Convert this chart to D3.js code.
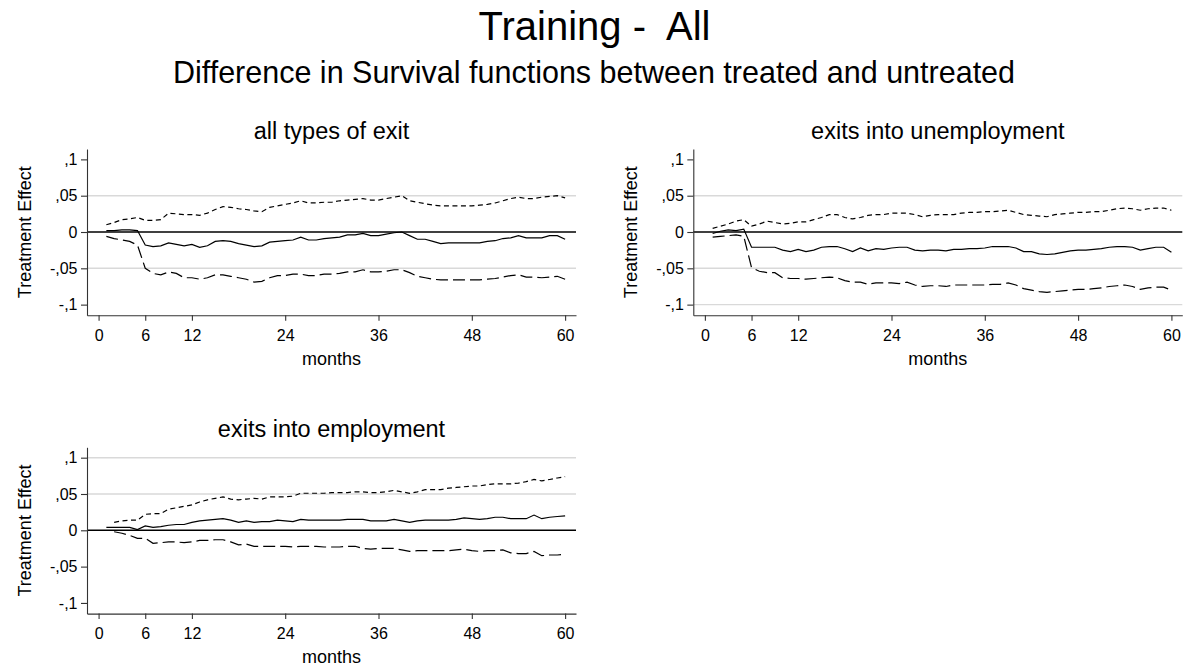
<!DOCTYPE html>
<html>
<head>
<meta charset="utf-8">
<script src="https://cdn.jsdelivr.net/npm/d3@7/dist/d3.min.js"></script>
<style>
  html, body { margin: 0; padding: 0; background: #fff; }
  svg { display: block; }
  text { font-family: "Liberation Sans", Arial, sans-serif; fill: #000; white-space: pre; }
</style>
</head>
<body>
<svg id="chart" width="1186" height="668"></svg>
<script>
// ---------------- data ----------------
const months = [1,2,3,4,5,6,7,8,9,10,11,12,13,14,15,16,17,18,19,20,
  21,22,23,24,25,26,27,28,29,30,31,32,33,34,35,36,37,38,39,40,
  41,42,43,44,45,46,47,48,49,50,51,52,53,54,55,56,57,58,59,60];

const xTicks = [0, 6, 12, 24, 36, 48, 60];
const yTicks = [0.1, 0.05, 0, -0.05, -0.1];
const yTickLabels = [",1", ",05", "0", "-,05", "-,1"];

const panelTitles = ["all types of exit", "exits into unemployment", "exits into employment"];
const mainTitle = "Training -  All";
const subTitle = "Difference in Survival functions between treated and untreated";
const yAxisTitle = "Treatment Effect";
const xAxisTitle = "months";

// all types of exit
const allSolid = [0.002,0.002,0.003,0.003,0.002,-0.018,-0.020,-0.019,-0.015,-0.017,
  -0.019,-0.017,-0.021,-0.019,-0.013,-0.012,-0.013,-0.016,-0.018,-0.020,
  -0.019,-0.014,-0.013,-0.012,-0.011,-0.007,-0.011,-0.011,-0.009,-0.008,
  -0.007,-0.004,-0.004,-0.002,-0.005,-0.005,-0.003,-0.001,0.000,-0.005,
  -0.010,-0.010,-0.013,-0.016,-0.015,-0.015,-0.015,-0.015,-0.015,-0.013,
  -0.012,-0.009,-0.008,-0.005,-0.008,-0.008,-0.008,-0.005,-0.005,-0.010];
const allUpper = [0.010,0.013,0.017,0.018,0.020,0.016,0.016,0.017,0.026,0.025,
  0.024,0.024,0.023,0.026,0.031,0.035,0.034,0.032,0.031,0.029,
  0.028,0.034,0.036,0.038,0.040,0.043,0.040,0.040,0.041,0.041,
  0.043,0.044,0.045,0.046,0.044,0.044,0.046,0.048,0.050,0.043,
  0.041,0.039,0.037,0.036,0.036,0.036,0.036,0.036,0.037,0.038,
  0.040,0.043,0.046,0.048,0.046,0.046,0.048,0.049,0.050,0.047];
const allLower = [-0.006,-0.009,-0.011,-0.013,-0.018,-0.050,-0.057,-0.059,-0.055,-0.057,
  -0.063,-0.063,-0.065,-0.063,-0.059,-0.059,-0.061,-0.063,-0.065,-0.069,
  -0.068,-0.063,-0.060,-0.060,-0.058,-0.058,-0.060,-0.060,-0.058,-0.058,
  -0.057,-0.055,-0.055,-0.052,-0.055,-0.055,-0.054,-0.052,-0.052,-0.056,
  -0.061,-0.063,-0.065,-0.066,-0.066,-0.066,-0.066,-0.066,-0.066,-0.065,
  -0.064,-0.062,-0.060,-0.059,-0.062,-0.062,-0.063,-0.062,-0.061,-0.065];

// exits into unemployment
const unempSolid = [-0.002,0.001,0.003,0.002,0.004,-0.021,-0.021,-0.021,-0.021,-0.025,
  -0.027,-0.024,-0.027,-0.025,-0.021,-0.020,-0.020,-0.023,-0.027,-0.022,
  -0.026,-0.023,-0.024,-0.022,-0.021,-0.021,-0.025,-0.026,-0.025,-0.025,
  -0.026,-0.024,-0.024,-0.023,-0.023,-0.022,-0.020,-0.020,-0.020,-0.022,
  -0.027,-0.027,-0.030,-0.031,-0.030,-0.028,-0.026,-0.025,-0.025,-0.024,
  -0.023,-0.021,-0.020,-0.020,-0.021,-0.025,-0.023,-0.021,-0.021,-0.028];
const unempUpper = [0.005,0.008,0.011,0.015,0.017,0.008,0.011,0.015,0.013,0.011,
  0.012,0.014,0.014,0.017,0.020,0.024,0.024,0.020,0.018,0.020,
  0.023,0.024,0.024,0.026,0.026,0.026,0.024,0.021,0.023,0.024,
  0.024,0.024,0.026,0.027,0.027,0.028,0.028,0.029,0.030,0.027,
  0.024,0.023,0.022,0.021,0.024,0.025,0.026,0.027,0.027,0.028,
  0.028,0.030,0.032,0.033,0.032,0.030,0.032,0.033,0.033,0.030];
const unempLower = [-0.007,-0.006,-0.005,-0.004,-0.006,-0.049,-0.054,-0.056,-0.056,-0.063,
  -0.064,-0.064,-0.065,-0.064,-0.063,-0.062,-0.063,-0.067,-0.069,-0.069,
  -0.072,-0.070,-0.070,-0.070,-0.071,-0.069,-0.073,-0.075,-0.074,-0.074,
  -0.075,-0.073,-0.073,-0.073,-0.073,-0.073,-0.072,-0.072,-0.070,-0.073,
  -0.078,-0.080,-0.082,-0.083,-0.082,-0.081,-0.080,-0.079,-0.079,-0.078,
  -0.077,-0.075,-0.074,-0.073,-0.075,-0.079,-0.077,-0.076,-0.076,-0.080];

// exits into employment
const empSolid = [0.004,0.004,0.004,0.004,0.001,0.006,0.004,0.005,0.007,0.008,
  0.008,0.011,0.013,0.014,0.015,0.016,0.014,0.011,0.013,0.011,
  0.012,0.012,0.014,0.013,0.012,0.015,0.014,0.014,0.014,0.014,
  0.014,0.015,0.015,0.015,0.013,0.013,0.013,0.015,0.013,0.011,
  0.013,0.014,0.014,0.014,0.014,0.015,0.017,0.016,0.015,0.016,
  0.018,0.018,0.016,0.016,0.016,0.021,0.016,0.018,0.019,0.020];
const empUpper = [null,0.011,0.013,0.014,0.014,0.022,0.023,0.023,0.029,0.031,
  0.033,0.035,0.039,0.042,0.044,0.046,0.043,0.042,0.043,0.044,
  0.043,0.046,0.046,0.046,0.047,0.051,0.051,0.051,0.051,0.052,
  0.052,0.052,0.053,0.053,0.052,0.052,0.053,0.055,0.053,0.051,
  0.053,0.056,0.056,0.056,0.058,0.059,0.060,0.061,0.061,0.063,
  0.064,0.064,0.064,0.065,0.067,0.070,0.068,0.070,0.072,0.074];
const empLower = [null,-0.002,-0.004,-0.007,-0.011,-0.011,-0.018,-0.017,-0.016,-0.016,
  -0.017,-0.016,-0.014,-0.014,-0.013,-0.013,-0.016,-0.020,-0.019,-0.022,
  -0.022,-0.022,-0.022,-0.022,-0.023,-0.022,-0.022,-0.022,-0.023,-0.023,
  -0.023,-0.022,-0.022,-0.025,-0.026,-0.025,-0.025,-0.025,-0.027,-0.029,
  -0.028,-0.028,-0.028,-0.028,-0.028,-0.027,-0.026,-0.028,-0.029,-0.028,
  -0.028,-0.027,-0.031,-0.032,-0.032,-0.029,-0.035,-0.034,-0.034,-0.033];

// ---------------- layout ----------------
const svg = d3.select("#chart");
const FONT = '"Liberation Sans", Arial, sans-serif';

svg.append("text").attr("x", 594.5).attr("y", 39.5).attr("text-anchor", "middle")
  .attr("xml:space", "preserve")
  .style("font-size", "40px").text(mainTitle);
svg.append("text").attr("x", 594).attr("y", 82.5).attr("text-anchor", "middle")
  .style("font-size", "30.5px").text(subTitle);

const panels = [
  { title: panelTitles[0], solid: allSolid, upper: allUpper, lower: allLower, dx: 0, dy: 0, grid: [0.05, -0.05] },
  { title: panelTitles[1], solid: unempSolid, upper: unempUpper, lower: unempLower, dx: 606.3, dy: 0, grid: [0.05, -0.05, -0.1] },
  { title: panelTitles[2], solid: empSolid, upper: empUpper, lower: empLower, dx: 0, dy: 298.3, grid: [0.1, 0.05] }
];

const x = d3.scaleLinear().domain([-1.49, 61.4]).range([87, 576]);
const y = d3.scaleLinear().domain([-0.1147, 0.1143]).range([315.3, 149]);

panels.forEach(p => {
  const g = svg.append("g").attr("transform", `translate(${p.dx},${p.dy})`);

  // gridlines
  g.selectAll("line.grid").data(p.grid).join("line")
    .attr("class", "grid")
    .attr("x1", x.range()[0]).attr("x2", x.range()[1])
    .attr("y1", d => y(d)).attr("y2", d => y(d))
    .attr("stroke", "#d9d9d9").attr("stroke-width", 1.4);

  // zero reference line
  g.append("line")
    .attr("x1", x.range()[0]).attr("x2", x.range()[1])
    .attr("y1", y(0)).attr("y2", y(0))
    .attr("stroke", "#000").attr("stroke-width", 1.5);

  const line = d3.line()
    .defined(d => d[1] != null)
    .x(d => x(d[0])).y(d => y(d[1]));

  const series = [
    { vals: p.upper, dash: "5,3.5" },
    { vals: p.lower, dash: "12,5" },
    { vals: p.solid, dash: null }
  ];
  series.forEach(s => {
    g.append("path")
      .datum(months.map((m, i) => [m, s.vals[i]]))
      .attr("d", line)
      .attr("fill", "none")
      .attr("stroke", "#000")
      .attr("stroke-width", 1.2)
      .attr("stroke-dasharray", s.dash);
  });

  // axes
  const yAxis = d3.axisLeft(y)
    .tickValues(yTicks)
    .tickFormat((d, i) => yTickLabels[i])
    .tickSize(6).tickSizeOuter(0).tickPadding(3.5);
  const ya = g.append("g").attr("transform", `translate(${x.range()[0]},0)`).call(yAxis);

  const xAxis = d3.axisBottom(x)
    .tickValues(xTicks)
    .tickFormat(d3.format("d"))
    .tickSize(5.5).tickSizeOuter(0).tickPadding(8.4);
  const xa = g.append("g").attr("transform", `translate(0,${y.range()[0]})`).call(xAxis);

  [ya, xa].forEach(a => {
    a.select(".domain").attr("stroke", "#333").attr("stroke-width", 1.1);
    a.selectAll(".tick line").attr("stroke", "#333").attr("stroke-width", 1.1);
    a.selectAll(".tick text").style("font-size", "16px").style("font-family", FONT).attr("fill", "#000");
  });

  // titles
  g.append("text")
    .attr("x", (x.range()[0] + x.range()[1]) / 2).attr("y", 138.5)
    .attr("text-anchor", "middle").style("font-size", "23.5px").text(p.title);

  g.append("text")
    .attr("x", (x.range()[0] + x.range()[1]) / 2).attr("y", 365)
    .attr("text-anchor", "middle").style("font-size", "18px").text(xAxisTitle);

  g.append("text")
    .attr("transform", `translate(30.5,${(y.range()[0] + y.range()[1]) / 2}) rotate(-90)`)
    .attr("text-anchor", "middle").style("font-size", "18px").text(yAxisTitle);
});
</script>
</body>
</html>
